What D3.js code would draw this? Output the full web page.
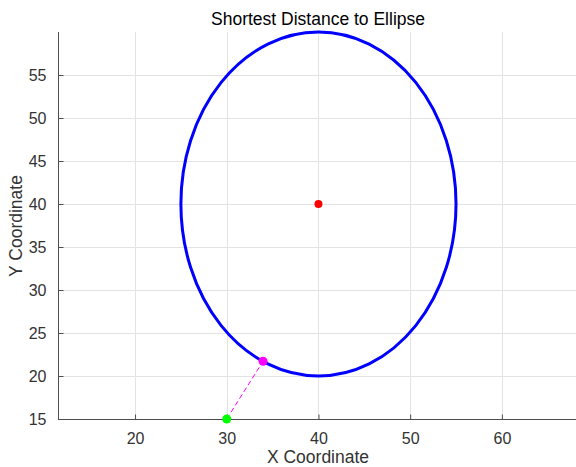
<!DOCTYPE html>
<html>
<head>
<meta charset="utf-8">
<script src="https://cdn.jsdelivr.net/npm/d3@7"></script>
<style>
  body { margin: 0; background: #fff; }
  text { font-family: "Liberation Sans", Arial, sans-serif; }
</style>
</head>
<body>
<script>
// data
var xTicks = [20, 30, 40, 50, 60];
var yTicks = [15, 20, 25, 30, 35, 40, 45, 50, 55];
var ellipseCenter = [40, 40];
var ellipseRadii = [15, 20];
var queryPoint = [30, 15];
var closestPoint = [33.96, 21.72];

var W = 576, H = 467;
var PLOT_L = 58, PLOT_R = 578, PLOT_T = 32, PLOT_B = 419;

var SVG = d3.select('body').append('svg').attr('width', W).attr('height', H);

var x = d3.scaleLinear().domain([11.6, 68.3]).range([PLOT_L, PLOT_R]);
var y = d3.scaleLinear().domain([15, 60]).range([PLOT_B, PLOT_T]);

// grid
var GRID = SVG.append('g').attr('stroke', '#e3e3e3').attr('stroke-width', 1);
GRID.selectAll('.vx').data(xTicks).enter().append('line')
    .attr('x1', function(d){ return Math.round(x(d)) + 0.5; })
    .attr('x2', function(d){ return Math.round(x(d)) + 0.5; })
    .attr('y1', PLOT_T).attr('y2', PLOT_B);
GRID.selectAll('.hy').data(yTicks).enter().append('line')
    .attr('y1', function(d){ return Math.round(y(d)) + 0.5; })
    .attr('y2', function(d){ return Math.round(y(d)) + 0.5; })
    .attr('x1', PLOT_L).attr('x2', PLOT_R);

// axes (MATLAB style inward ticks)
var xAxis = SVG.append('g').attr('transform', 'translate(0,' + (PLOT_B + 0.5) + ')')
    .call(d3.axisBottom(x).tickValues(xTicks).tickSize(-5).tickPadding(13));
var yAxis = SVG.append('g').attr('transform', 'translate(' + (PLOT_L + 0.5) + ',0)')
    .call(d3.axisLeft(y).tickValues(yTicks).tickSize(-5).tickPadding(12));
[xAxis, yAxis].forEach(function(a){
  a.select('.domain').attr('stroke', '#4d4d4d').attr('stroke-width', 1);
  a.selectAll('.tick line').attr('stroke', '#4d4d4d');
  a.selectAll('.tick text').attr('fill', '#333').style('font-size', '16px');
});
yAxis.select('.domain').attr('d', 'M0,' + PLOT_T + 'V' + PLOT_B);
xAxis.select('.domain').attr('d', 'M' + PLOT_L + ',0H' + PLOT_R);

// ellipse
SVG.append('ellipse')
   .attr('cx', x(ellipseCenter[0])).attr('cy', y(ellipseCenter[1]))
   .attr('rx', x(ellipseCenter[0] + ellipseRadii[0]) - x(ellipseCenter[0]))
   .attr('ry', y(ellipseCenter[1]) - y(ellipseCenter[1] + ellipseRadii[1]))
   .attr('fill', 'none').attr('stroke', '#0000ff').attr('stroke-width', 3);

// dashed connector
SVG.append('line')
   .attr('x1', x(queryPoint[0])).attr('y1', y(queryPoint[1]))
   .attr('x2', x(closestPoint[0])).attr('y2', y(closestPoint[1]))
   .attr('stroke', '#ff00ff').attr('stroke-width', 1).attr('stroke-dasharray', '5,3');

// points
SVG.append('circle').attr('cx', x(ellipseCenter[0])).attr('cy', y(ellipseCenter[1]))
   .attr('r', 4).attr('fill', '#ff0000');
SVG.append('circle').attr('cx', x(queryPoint[0])).attr('cy', y(queryPoint[1]))
   .attr('r', 4.5).attr('fill', '#00ff00');
SVG.append('circle').attr('cx', x(closestPoint[0])).attr('cy', y(closestPoint[1]))
   .attr('r', 4.5).attr('fill', '#ff00ff');

// labels
SVG.append('text').attr('x', 318).attr('y', 25).attr('text-anchor', 'middle')
   .style('font-size', '17.5px').attr('fill', '#000').text('Shortest Distance to Ellipse');
SVG.append('text').attr('x', 318).attr('y', 463).attr('text-anchor', 'middle')
   .style('font-size', '17.5px').attr('fill', '#333').text('X Coordinate');
SVG.append('text').attr('transform', 'translate(22,' + 226 + ') rotate(-90)').attr('text-anchor', 'middle')
   .style('font-size', '17.5px').attr('fill', '#333').text('Y Coordinate');
</script>
</body>
</html>
